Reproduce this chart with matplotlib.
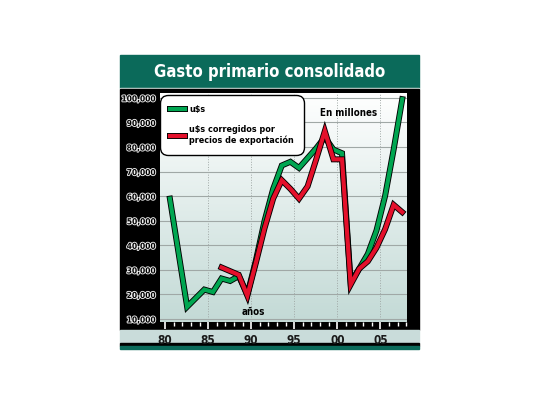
import numpy as np
import matplotlib
matplotlib.use("Agg")
import matplotlib.pyplot as plt
import matplotlib.patheffects as pe
from matplotlib.patches import Rectangle

# datos (millones)
years_usd = [1980, 1982, 1984, 1985, 1986, 1987, 1988, 1989, 1990, 1991, 1992,
             1993, 1994, 1995, 1996, 1997, 1998, 1999, 2000, 2001, 2002, 2003,
             2004, 2005, 2006, 2007]
usd = [59000, 15000, 22000, 21000, 26500, 25500, 27500, 20000, 34000, 50000, 63000,
       72500, 74000, 71500, 75500, 79500, 84000, 79000, 77500, 25000, 30500, 36500,
       46000, 60000, 79000, 99500]

years_corr = list(range(1986, 2008))
usd_corr = [31000, 29500, 28000, 19500, 33000, 47000, 59000, 66500, 63000, 59000,
            64000, 75000, 86500, 75000, 75000, 24000, 30500, 33500, 39000, 46500,
            56500, 53500]

y_ticks = list(range(10000, 100001, 10000))
y_labels = ['{:,}'.format(v) for v in y_ticks]
x_major = [1980, 1985, 1990, 1995, 2000, 2005]
x_labels = ['80', '85', '90', '95', '00', '05']

title = 'Gasto primario consolidado'
label_usd = 'u$s'
label_corr = 'u$s corregidos por\nprecios de exportación'

W, H = 540, 405
plt.rcParams['font.family'] = ['DejaVu Sans']
plt.rcParams['font.stretch'] = 'condensed'

fig = plt.figure(figsize=(W / 100, H / 100), dpi=100)


def frect(x0, y0, x1, y1, color):
    # rectangulo en pixeles (origen arriba a la izquierda)
    fig.patches.append(Rectangle((x0 / W, 1 - y1 / H), (x1 - x0) / W, (y1 - y0) / H,
                                 transform=fig.transFigure, color=color, zorder=-10))


frect(120, 55, 419, 88, '#0b6a5a')
frect(120, 88, 419, 89, '#d8e6e2')
frect(120, 89, 419, 330, 'black')
frect(120, 330, 419, 343, '#c9dcda')
frect(120, 343, 419, 346, 'black')
frect(120, 346, 419, 349, '#0b6a5a')

fig.text(270 / W, 1 - 72 / H, title, color='white', fontsize=12, fontweight='bold',
         ha='center', va='center')

ax = fig.add_axes([160 / W, 1 - 322 / H, 247 / W, 229 / H])
ax.set_xlim(1979.4, 2008.1)
ax.set_ylim(8800, 102000)

# fondo degradado
grad = np.linspace(0, 1, 256).reshape(-1, 1)
cmap = matplotlib.colors.LinearSegmentedColormap.from_list('bg', ['#ffffff', '#c3dad6'])
ax.imshow(grad, cmap=cmap, extent=(1979.4, 2008.1, 8800, 102000), aspect='auto',
          zorder=0, origin='upper')

for s in ax.spines.values():
    s.set_visible(False)

ax.set_yticks(y_ticks)
ax.set_yticklabels(y_labels)
ax.tick_params(axis='y', length=0, pad=3, labelsize=6)
for t in ax.get_yticklabels():
    t.set_color('black')
    t.set_fontweight('bold')
    t.set_path_effects([pe.Stroke(linewidth=1.3, foreground='#f0f0f0'), pe.Normal()])

ax.set_xticks(x_major)
ax.set_xticklabels(x_labels)
ax.set_xticks(range(1980, 2009), minor=True)
ax.tick_params(axis='x', which='major', direction='out', length=5, width=1.2,
               color='white', pad=4, labelsize=8.5, labelcolor='#1a1a1a')
ax.tick_params(axis='x', which='minor', direction='out', length=3, width=1,
               color='white')
for t in ax.get_xticklabels():
    t.set_fontweight('bold')

for v in y_ticks:
    ax.axhline(v, color='#a0a8a6', lw=0.8, zorder=1)
for v in x_major[1:]:
    ax.axvline(v, color='#a0a8a6', lw=0.7, ls=':', zorder=1)

x1 = np.array(years_usd) + 0.55
x2 = np.array(years_corr) + 0.55
edge = [pe.Stroke(linewidth=4.3, foreground='black'), pe.Normal()]
l1, = ax.plot(x1, usd, color='#00a651', lw=3.0, label=label_usd, zorder=3,
              solid_joinstyle='miter', path_effects=edge)
l2, = ax.plot(x2, usd_corr, color='#e4102b', lw=3.0, label=label_corr, zorder=4,
              solid_joinstyle='miter', path_effects=edge)

leg = ax.legend(handles=[l1, l2], loc='upper left',
                bbox_to_anchor=(162 / W, 1 - 97 / H), bbox_transform=fig.transFigure,
                prop={'weight': 'bold', 'size': 6.5}, handlelength=1.6,
                handletextpad=0.5, labelspacing=1.25, borderpad=0.9,
                borderaxespad=0, fancybox=True, framealpha=1, edgecolor='black')
leg.get_frame().set_linewidth(1.0)
leg.get_frame().set_boxstyle('round,pad=0.2,rounding_size=0.9')
leg.set_zorder(6)

fig.text(349 / W, 1 - 113 / H, 'En millones', fontsize=7, fontweight='bold',
         ha='center', va='center')
fig.text(253 / W, 1 - 312 / H, 'años', fontsize=7, fontweight='bold',
         ha='center', va='center')

fig.savefig('out.png', dpi=100)
